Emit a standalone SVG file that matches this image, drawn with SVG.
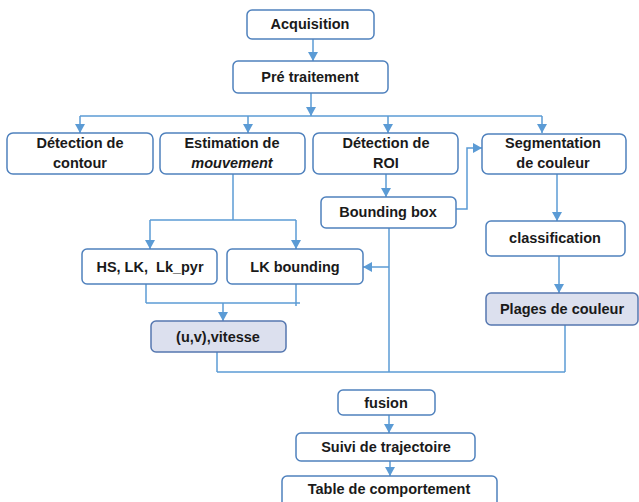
<svg xmlns="http://www.w3.org/2000/svg" width="639" height="502" viewBox="0 0 639 502">
<defs>
<marker id="ah" markerUnits="userSpaceOnUse" markerWidth="12" markerHeight="12" viewBox="0 0 12 12" refX="10" refY="6" orient="auto">
<path d="M1,1 L10,6 L1,11 Z" fill="#5b9bd5"/>
</marker>
<style>
.box{fill:#ffffff;stroke:#4f81bd;stroke-width:1.5}
.sh{fill:#dce0ee;stroke:#5577b0;stroke-width:1.5}
.t{font-family:"Liberation Sans",Arial,sans-serif;font-weight:bold;font-size:14.5px;fill:#1a1a1a;text-anchor:middle}
.i{font-style:italic}
.c{fill:none;stroke:#5b9bd5;stroke-width:1.5}
.a{marker-end:url(#ah)}
</style>
</defs>
<rect width="639" height="502" fill="#ffffff"/>
<g id="connectors">
<line class="c a" x1="313" y1="39" x2="313" y2="61"/>
<line class="c a" x1="311" y1="93" x2="311" y2="116"/>
<line class="c" x1="80" y1="116" x2="542" y2="116"/>
<line class="c a" x1="80" y1="116" x2="80" y2="133"/>
<line class="c a" x1="248" y1="116" x2="248" y2="133"/>
<line class="c a" x1="388" y1="116" x2="388" y2="133"/>
<line class="c a" x1="542" y1="116" x2="542" y2="133"/>
<line class="c" x1="233" y1="174" x2="233" y2="220"/>
<line class="c" x1="150" y1="220" x2="296" y2="220"/>
<line class="c a" x1="150" y1="220" x2="150" y2="249"/>
<line class="c a" x1="296" y1="220" x2="296" y2="249"/>
<line class="c a" x1="386" y1="174" x2="386" y2="197"/>
<polyline class="c a" points="456,209 467,209 467,148 482,148"/>
<line class="c" x1="389" y1="228" x2="389" y2="372"/>
<line class="c a" x1="389" y1="267" x2="363" y2="267"/>
<line class="c a" x1="557" y1="174" x2="557" y2="221"/>
<line class="c a" x1="559" y1="256" x2="559" y2="293"/>
<line class="c" x1="565" y1="325" x2="565" y2="372"/>
<line class="c" x1="217" y1="372" x2="565" y2="372"/>
<line class="c" x1="217" y1="352" x2="217" y2="372"/>
<line class="c" x1="146" y1="284" x2="146" y2="303"/>
<line class="c" x1="146" y1="303" x2="300" y2="303"/>
<line class="c" x1="296" y1="284" x2="296" y2="306"/>
<line class="c a" x1="223" y1="303" x2="223" y2="321"/>
<line class="c a" x1="389" y1="415" x2="389" y2="433"/>
<line class="c a" x1="390" y1="461" x2="390" y2="476"/>
</g>
<g id="acquisition"><rect class="box" x="247" y="10" width="127" height="29" rx="5"/><text class="t" x="310" y="29">Acquisition</text></g>
<g id="pretraitement"><rect class="box" x="233" y="61" width="155" height="32" rx="5"/><text class="t" x="310" y="82">Pré traitement</text></g>
<g id="detection-contour"><rect class="box" x="7" y="133" width="146" height="41" rx="6"/><text class="t" x="80" y="148">Détection de</text><text class="t" x="80" y="168">contour</text></g>
<g id="estimation"><rect class="box" x="160" y="133" width="145" height="41" rx="6"/><text class="t" x="232" y="148">Estimation de</text><text class="t i" x="232" y="168">mouvement</text></g>
<g id="detection-roi"><rect class="box" x="313" y="133" width="145" height="41" rx="6"/><text class="t" x="386" y="148">Détection de</text><text class="t" x="386" y="168">ROI</text></g>
<g id="segmentation"><rect class="box" x="482" y="134" width="144" height="40" rx="6"/><text class="t" x="553" y="148">Segmentation</text><text class="t" x="553" y="168">de couleur</text></g>
<g id="bounding-box"><rect class="box" x="321" y="197" width="135" height="31" rx="5"/><text class="t" x="388" y="217">Bounding box</text></g>
<g id="classification"><rect class="box" x="486" y="221" width="139" height="35" rx="5"/><text class="t" x="555" y="243">classification</text></g>
<g id="hs-lk"><rect class="box" x="82" y="249" width="135" height="35" rx="5"/><text class="t" x="150" y="272" xml:space="preserve">HS, LK,  Lk_pyr</text></g>
<g id="lk-bounding"><rect class="box" x="227" y="249" width="136" height="35" rx="5"/><text class="t" x="295" y="272">LK bounding</text></g>
<g id="plages"><rect class="sh" x="486" y="293" width="152" height="32" rx="5"/><text class="t" x="562" y="314">Plages de couleur</text></g>
<g id="uv-vitesse"><rect class="sh" x="151" y="321" width="135" height="31" rx="5"/><text class="t" x="218" y="342">(u,v),vitesse</text></g>
<g id="fusion"><rect class="box" x="338" y="390" width="97" height="25" rx="5"/><text class="t" x="386" y="408">fusion</text></g>
<g id="suivi"><rect class="box" x="296" y="433" width="179" height="28" rx="5"/><text class="t" x="386" y="452">Suivi de trajectoire</text></g>
<g id="table"><rect class="box" x="282" y="476" width="215" height="34" rx="5"/><text class="t" x="389" y="494">Table de comportement</text></g>
</svg>
